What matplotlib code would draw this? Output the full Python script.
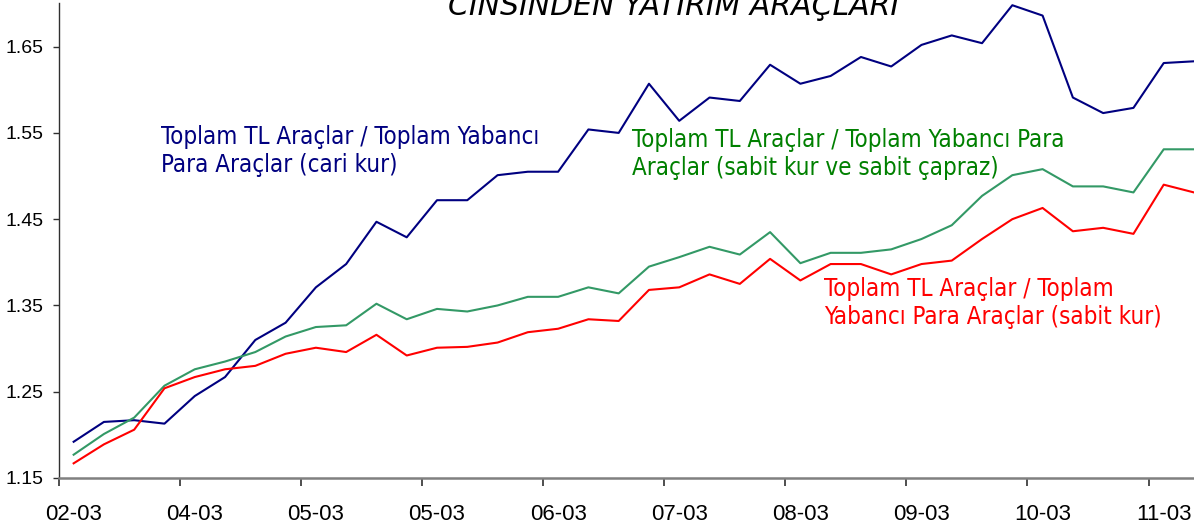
import matplotlib
matplotlib.use("Agg")
import matplotlib.pyplot as plt
import numpy as np

W, H = 1194, 531

# weekly ratios, three series
cari_kur = [1.192, 1.215, 1.217, 1.213, 1.245, 1.267, 1.310, 1.330, 1.371, 1.398,
            1.447, 1.429, 1.472, 1.472, 1.501, 1.505, 1.505, 1.554, 1.550, 1.607,
            1.564, 1.591, 1.587, 1.629, 1.607, 1.616, 1.638, 1.627, 1.652, 1.663,
            1.654, 1.698, 1.686, 1.591, 1.573, 1.579, 1.631, 1.633]
sabit_capraz = [1.177, 1.201, 1.220, 1.257, 1.276, 1.285, 1.296, 1.314, 1.325, 1.327,
                1.352, 1.334, 1.346, 1.343, 1.350, 1.360, 1.360, 1.371, 1.364, 1.395,
                1.406, 1.418, 1.409, 1.435, 1.399, 1.411, 1.411, 1.415, 1.427, 1.443,
                1.477, 1.501, 1.508, 1.488, 1.488, 1.481, 1.531, 1.531]
sabit_kur = [1.167, 1.189, 1.206, 1.254, 1.267, 1.276, 1.280, 1.294, 1.301, 1.296,
             1.316, 1.292, 1.301, 1.302, 1.307, 1.319, 1.323, 1.334, 1.332, 1.368,
             1.371, 1.386, 1.375, 1.404, 1.379, 1.398, 1.398, 1.386, 1.398, 1.402,
             1.427, 1.450, 1.463, 1.436, 1.440, 1.433, 1.490, 1.481]
date_labels = ["02-03", "04-03", "05-03", "05-03", "06-03",
               "07-03", "08-03", "09-03", "10-03", "11-03"]
y_ticks = [1.15, 1.25, 1.35, 1.45, 1.55, 1.65]

x = np.arange(len(cari_kur))

fig = plt.figure(figsize=(W / 100, H / 100), dpi=100)
left, bottom, top = 58.5, 478, 3.5
ax = fig.add_axes([left / W, 1 - bottom / H, 1 - left / W, (bottom - top) / H])

ax.plot(x, cari_kur, color="#000080", lw=1.5, clip_on=False)
ax.plot(x, sabit_capraz, color="#339966", lw=1.5)
ax.plot(x, sabit_kur, color="#FF0000", lw=1.5)

ax.set_xlim(-0.5, 37.0)
ax.set_ylim(1.15, 1.70)

ax.spines["top"].set_visible(False)
ax.spines["right"].set_visible(False)
ax.spines["bottom"].set_color("#808080")
ax.spines["bottom"].set_linewidth(1.8)
ax.spines["left"].set_color("#303030")
ax.spines["left"].set_linewidth(1.0)

tickfont = ["Liberation Sans", "DejaVu Sans"]

# ticks sit between weeks, labels on every fourth week
ax.set_xticks(np.arange(-0.5, 37, 4))
ax.set_xticklabels([])
ax.set_xticks(np.arange(0, 37, 4), minor=True)
ax.set_xticklabels(date_labels, minor=True, fontsize=16, family=tickfont)
ax.tick_params(axis="x", which="major", direction="out", length=5.5, width=1.2, color="#303030")
ax.tick_params(axis="x", which="minor", length=0, pad=19)

ax.set_yticks(y_ticks)
ax.set_yticklabels([f"{v:.2f}" for v in y_ticks], fontsize=14, family=tickfont)
ax.tick_params(axis="y", direction="out", length=4, width=1.0, color="#303030", pad=7)

def px(xp, yp):
    return xp / W, 1 - yp / H

tfont = ["DejaVu Sans"]
fig.text(*px(448, 15), "CİNSİNDEN YATIRIM ARAÇLARI", fontsize=21.5, style="italic",
         family=tfont, ha="left", va="baseline")

# series captions, anchored at the baseline of their last line
fig.text(*px(161, 172), "Toplam TL Araçlar / Toplam Yabancı\nPara Araçlar (cari kur)",
         color="#000080", fontsize=17.3, family=tfont, stretch="condensed",
         ha="left", va="baseline", linespacing=1.2)
fig.text(*px(632, 175), "Toplam TL Araçlar / Toplam Yabancı Para\nAraçlar (sabit kur ve sabit çapraz)",
         color="#008000", fontsize=17.3, family=tfont, stretch="condensed",
         ha="left", va="baseline", linespacing=1.2)
fig.text(*px(824, 324), "Toplam TL Araçlar / Toplam\nYabancı Para Araçlar (sabit kur)",
         color="#FF0000", fontsize=17.3, family=tfont, stretch="condensed",
         ha="left", va="baseline", linespacing=1.2)

fig.savefig("out.png", dpi=100)
